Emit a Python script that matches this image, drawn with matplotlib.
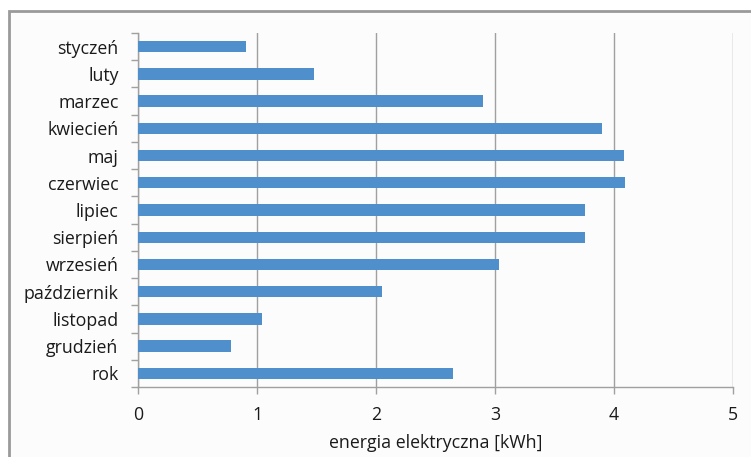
import matplotlib
matplotlib.use("Agg")
import matplotlib.pyplot as plt
from matplotlib.patches import Rectangle

months = ["styczeń", "luty", "marzec", "kwiecień", "maj", "czerwiec", "lipiec",
          "sierpień", "wrzesień", "październik", "listopad", "grudzień", "rok"]
energy_kwh = [0.91, 1.48, 2.90, 3.90, 4.08, 4.09, 3.76, 3.76, 3.03, 2.05, 1.04, 0.78, 2.65]
x_ticks = [0, 1, 2, 3, 4, 5]
x_label = "energia elektryczna [kWh]"

plt.rcParams['font.family'] = ['Open Sans', 'DejaVu Sans']

W, H = 751, 457
fig = plt.figure(figsize=(W / 100, H / 100), dpi=100)
fig.patch.set_facecolor("white")

# chart frame (continues past the right and bottom edges)
frame = Rectangle((9 / W, -0.05), 1.1, 1 - 11 / H + 0.05, transform=fig.transFigure,
                  facecolor="#fcfcfc", edgecolor="#9a9a9a", linewidth=2, zorder=-10)
fig.patches.append(frame)

ax = fig.add_axes([138 / W, 1 - 387 / H, (733 - 138) / W, (387 - 33) / H])
ax.set_facecolor("none")
ax.set_zorder(5)

n = len(months)
pos = list(range(n))
ax.barh(pos, energy_kwh, height=0.42, color="#4f90cc", zorder=3)

ax.set_xlim(0, 5)
ax.set_ylim(n - 0.5, -0.5)
ax.set_xticks(x_ticks)
ax.set_xticklabels([str(t) for t in x_ticks])
ax.set_yticks(pos)
ax.set_yticklabels(months)
ax.set_yticks([i - 0.5 for i in range(n + 1)], minor=True)

ax.grid(axis="x", color="#a0a0a0", linewidth=1, zorder=1)
ax.grid(axis="y", visible=False)
for side in ["top", "right"]:
    ax.spines[side].set_visible(False)
for side in ["left", "bottom"]:
    ax.spines[side].set_color("#a0a0a0")
    ax.spines[side].set_linewidth(1)

ax.tick_params(axis="y", which="major", length=0, pad=14, labelsize=12.8, labelcolor="#1a1a1a")
ax.tick_params(axis="y", which="minor", length=5, color="#a0a0a0", width=1)
ax.tick_params(axis="x", length=5, color="#a0a0a0", width=1, pad=9,
               labelsize=12.8, labelcolor="#1a1a1a")

ax.set_xlabel(x_label, fontsize=12.8, color="#1a1a1a", labelpad=7)

fig.savefig("out.png", dpi=100)
